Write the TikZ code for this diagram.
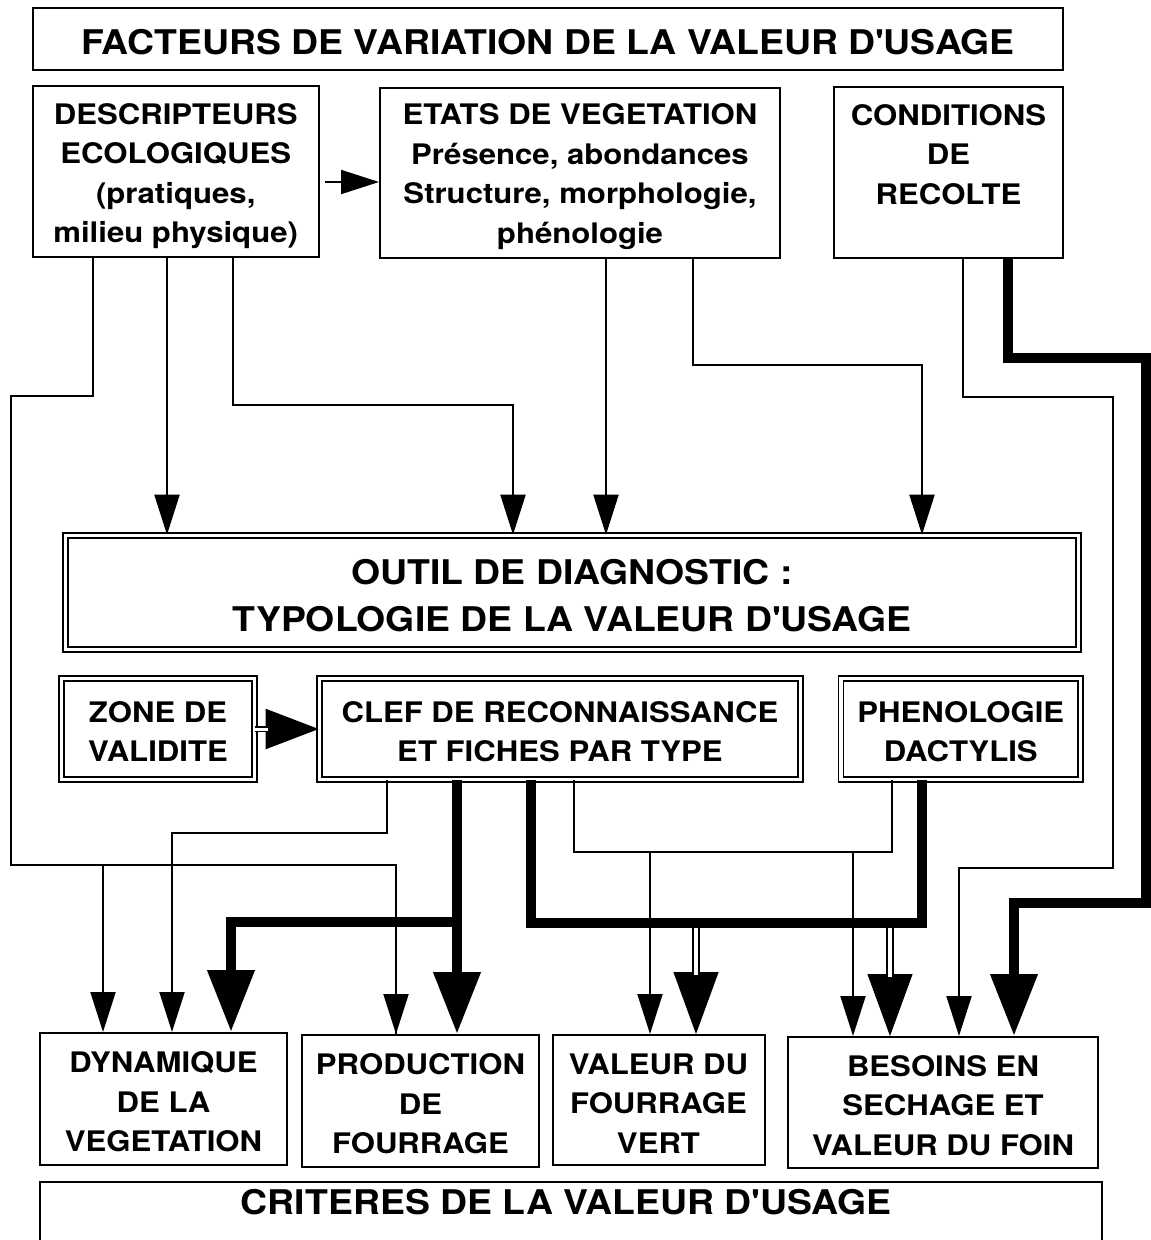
\documentclass[tikz,border=0pt]{standalone}
\usepackage{fontspec}
\setmainfont{TeX Gyre Heros}[FakeStretch=1.1]
\usetikzlibrary{arrows.meta}
\newcommand\bxf{\fontsize{28.3}{39.5}\selectfont\bfseries}
\newcommand\hdf{\fontsize{34}{47}\selectfont\bfseries}
\newcommand\tp[1]{\rule{0pt}{#1pt}}
\newcommand\apo{\textquotesingle}
\begin{document}
\begin{tikzpicture}[x=1pt,y=-1pt,
  box/.style={draw, line width=2pt, inner sep=0pt, align=center, font=\bxf},
  dbox/.style={box, double, line width=1.6pt, double distance=3.5pt},
  ln/.style={line width=2pt},
  ar/.style={ln, -{Triangle[length=40pt,width=25pt]}},
  thk/.style={line width=10.5pt},
  bar/.style={thk, -{Triangle[length=62pt,width=45pt]}},
  dbar/.style={line width=1pt, -{Triangle[length=62pt,width=45pt]}},
  dbl/.style={line width=1.6pt, double, double distance=4pt}
]
\fill[white] (0,0) rectangle (1151,1240);
\useasboundingbox (0,0) rectangle (1151,1240);

% boxes
\node[box, font=\hdf, minimum width=1030pt, minimum height=62pt] (title) at (548,39) {\tp{31}FACTEURS DE VARIATION DE LA VALEUR D\apo USAGE};
\node[box, minimum width=285.5pt, minimum height=171pt] (desc) at (175.75,171.5) {\tp{30}DESCRIPTEURS\\ECOLOGIQUES\\(pratiques,\\milieu physique)};
\node[box, minimum width=400pt, minimum height=170pt] (etats) at (580,173) {\tp{28}ETATS DE VEGETATION\\Présence, abondances\\Structure, morphologie,\\phénologie};
\node[box, minimum width=229pt, minimum height=171pt] (cond) at (948.5,172.5) {\tp{24}CONDITIONS\\DE\\RECOLTE\\\mbox{}};

\node[dbox, font=\hdf, minimum width=1013pt, minimum height=114pt] (outil) at (572,592.5) {\tp{31}OUTIL DE DIAGNOSTIC :\\TYPOLOGIE DE LA VALEUR D\apo USAGE};
\node[dbox, minimum width=193pt, minimum height=101pt] (zone) at (158,729) {\tp{26}ZONE DE\\VALIDITE};
\node[dbox, minimum width=481pt, minimum height=101pt] (clef) at (560,729) {\tp{26}CLEF DE RECONNAISSANCE\\ET FICHES PAR TYPE};
\node[dbox, minimum width=239.5pt, minimum height=101pt] (phen) at (960.75,729) {\tp{26}PHENOLOGIE\\DACTYLIS};

\node[box, minimum width=247pt, minimum height=132pt] (dyn) at (163.5,1099) {\tp{27}DYNAMIQUE\\DE LA\\VEGETATION};
\node[box, minimum width=237pt, minimum height=132pt] (prod) at (420.5,1101) {\tp{27}PRODUCTION\\DE\\FOURRAGE};
\node[box, minimum width=212pt, minimum height=130pt] (val) at (658.5,1100) {\tp{27}VALEUR DU\\FOURRAGE\\VERT};
\node[box, minimum width=309.5pt, minimum height=131pt] (bes) at (943,1102.5) {\tp{27}BESOINS EN\\SECHAGE ET\\VALEUR DU FOIN};

\draw[ln] (40,1250) -- (40,1182) -- (1101.5,1182) -- (1101.5,1250);
\node[font=\hdf, inner sep=0pt, anchor=base] (crit) at (566,1214) {CRITERES DE LA VALEUR D\apo USAGE};

% top connectors
\draw[ln, shorten <=5pt, -{Triangle[length=38pt,width=24pt]}] (desc.east |- 0,182) -- (etats.west |- 0,182);
\draw[ln] (desc.south -| 92.6,0) -- (92.6,396) -- (11,396) -- (11,865) -| (prod.north -| 396,0);
\draw[ar] (396,865) -- (prod.north -| 396,0);
\draw[ar] (103,865) -- (dyn.north -| 103,0);
\draw[ar] (desc.south -| 167,0) -- (outil.north -| 167,0);
\draw[ar] (desc.south -| 232.6,0) |- (513,405) -- (outil.north -| 513,0);
\draw[ar] (etats.south -| 606,0) -- (outil.north -| 606,0);
\draw[ar] (etats.south -| 693,0) |- (922,365) -- (outil.north -| 922,0);
\draw[ar] (cond.south -| 963,0) |- (1113,397) -- (1113,868) -| (bes.north -| 959,0);
\draw[bar] (cond.south -| 1008,0) |- (1146,358) -- (1146,903) -| (bes.north -| 1014,0);

% zone -> clef
\draw[ln, -{Triangle[length=53pt,width=40pt]}] (zone.east) -- (clef.west);
\draw[line width=1.2pt, double, double distance=3pt] (zone.east) -- ++(13,0);

% lower connectors
\draw[ar] (clef.south -| 387,0) |- (172,833) -- (dyn.north -| 172,0);
\draw[ln] (clef.south -| 574,0) -- (574,852) -- (892,852) -- (phen.south -| 892,0);
\draw[ar] (650,852) -- (val.north -| 650,0);
\draw[ar] (853,852) -- (bes.north -| 853,0);

\draw[dbar] (696,923) -- (val.north -| 696,0);
\draw[dbl, shorten >=59pt] (696,923) -- (val.north -| 696,0);
\draw[dbar] (890,923) -- (bes.north -| 890,0);
\draw[dbl, shorten >=59pt] (890,923) -- (bes.north -| 890,0);

\draw[bar] (clef.south -| 457,0) -- (prod.north -| 457,0);
\draw[bar] (457,922) -| (dyn.north -| 231,0);
\draw[thk] (clef.south -| 531,0) -- (531,923) -- (922,923) -- (phen.south -| 922,0);
\end{tikzpicture}
\end{document}
